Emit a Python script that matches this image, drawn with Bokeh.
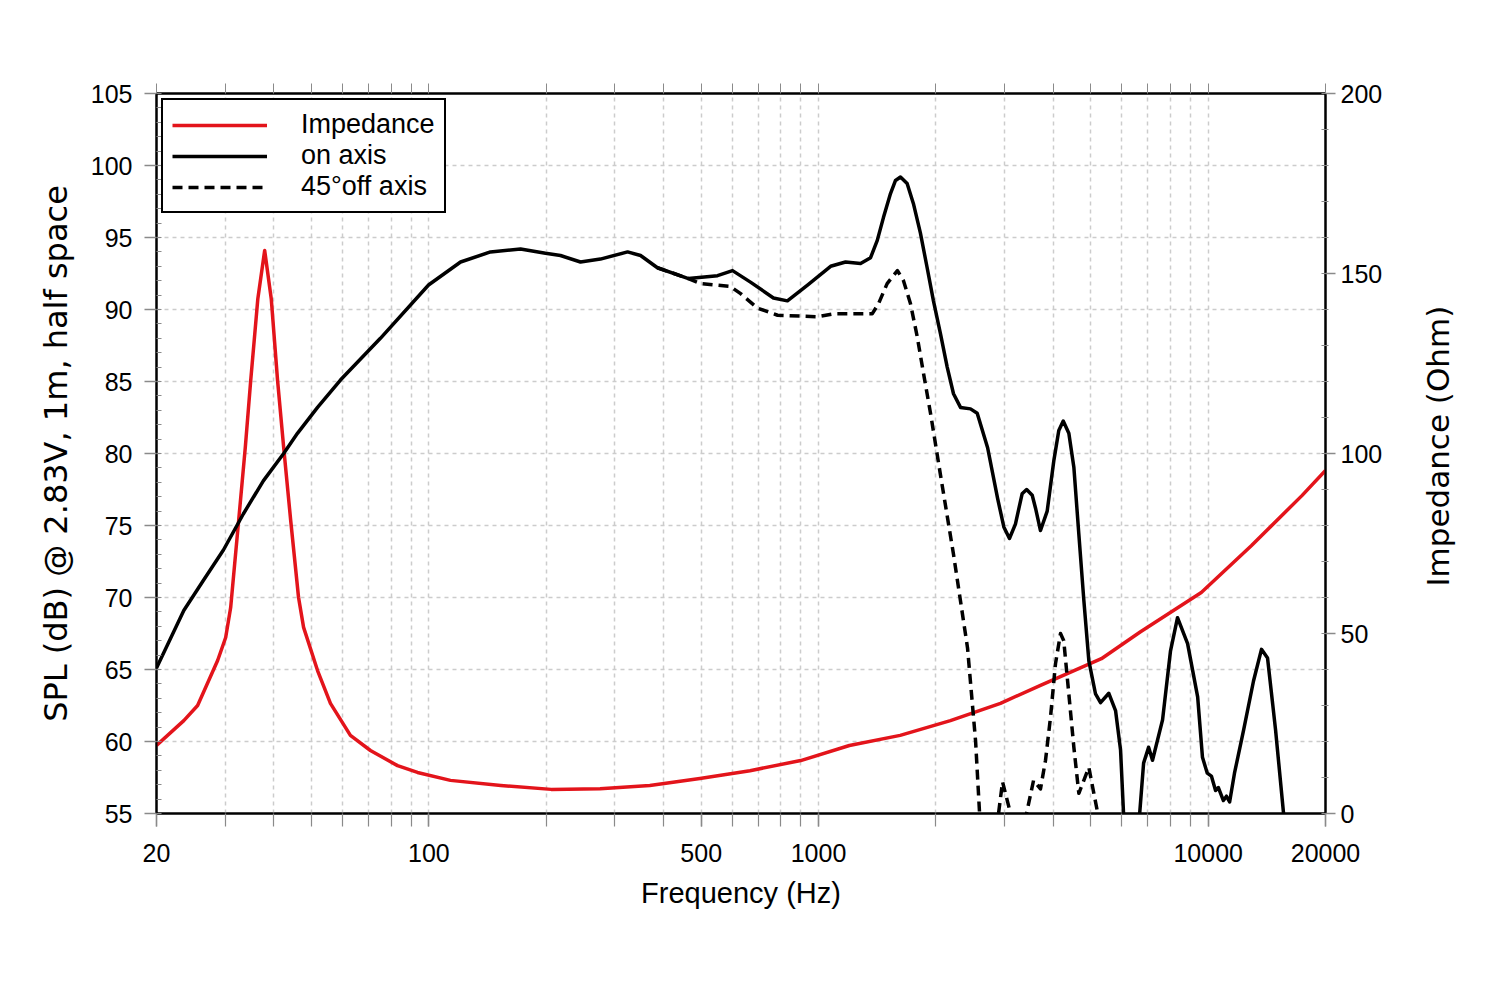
import math
from bokeh.plotting import figure
from bokeh.layouts import row
from bokeh.core.properties import value
from bokeh.models import (Range1d, LinearAxis, LogAxis, FixedTicker, Legend,
                          LegendItem, PrintfTickFormatter)
from bokeh.embed import file_html
from bokeh.resources import INLINE

# ---------------- data ----------------
on_freq = [20, 23.5, 26.4, 29.7, 33.4, 37.6, 42.4, 46.0, 51.8, 59.3, 75.1, 99.8,
           120.6, 143.9, 171.9, 199.2, 217.7, 245, 275.6, 323.6, 349.4, 386,
           463.6, 550.5, 601.6, 668.8, 766, 832, 937, 1074, 1173, 1282, 1360,
           1415, 1468, 1530, 1576, 1623, 1688, 1752, 1826, 1900, 1972, 2056,
           2139, 2220, 2314, 2455, 2554, 2716, 2880, 2989, 3090, 3201, 3330,
           3420, 3535, 3605, 3712, 3862, 4016, 4136, 4246, 4389, 4521, 4656,
           4796, 4940, 5139, 5293, 5559, 5784, 5958, 6076, 6300, 6550, 6670,
           6827, 7032, 7196, 7636, 8004, 8342, 8853, 9396, 9667, 9946, 10190,
           10445, 10620, 10940, 11140, 11350, 11680, 12330, 13070, 13700, 14200,
           14890, 15610, 16300]
on_spl = [65.1, 69.1, 71.2, 73.3, 75.8, 78.1, 80.0, 81.4, 83.2, 85.1, 88.0, 91.7,
          93.3, 94.0, 94.2, 93.9, 93.75, 93.3, 93.5, 94.0, 93.75, 92.9,
          92.15, 92.35, 92.7, 91.9, 90.8, 90.6, 91.7, 93.0, 93.3, 93.2, 93.6,
          94.8, 96.4, 98.05, 98.96, 99.2, 98.75, 97.35, 95.3, 92.9, 90.6, 88.3,
          86.0, 84.15, 83.2, 83.1, 82.8, 80.4, 76.9, 74.9, 74.1, 75.1, 77.2,
          77.5, 77.1, 76.2, 74.65, 76.0, 79.5, 81.6, 82.25, 81.4, 79.05, 74.4,
          69.8, 65.6, 63.3, 62.7, 63.35, 62.15, 59.4, 54.5, 46.0, 46.0, 55.0,
          58.5, 59.6, 58.7, 61.5, 66.3, 68.6, 66.8, 63.1, 58.9, 57.8, 57.6,
          56.6, 56.8, 55.9, 56.2, 55.8, 57.8, 60.8, 64.2, 66.4, 65.8,
          60.8, 55.0, 50.0]

off_freq = [386, 463.6, 498, 594, 631, 697, 785, 994, 1092, 1282, 1373, 1425,
            1500, 1594, 1652, 1722, 1792, 1860, 1938, 2056, 2220, 2412, 2530,
            2590, 2683, 2845, 2897, 2966, 3110, 3230, 3337, 3418, 3563, 3712,
            3824, 3939, 4056, 4178, 4259, 4389, 4521, 4656, 4796, 4940, 5088,
            5208, 5290, 5500]
off_spl = [92.9, 92.15, 91.8, 91.6, 91.1, 90.1, 89.6, 89.5, 89.7, 89.7, 89.7,
           90.4, 91.8, 92.7, 92.0, 90.4, 88.1, 85.55, 82.8, 78.5, 73.0, 66.5,
           60.0, 55.0, 51.0, 50.0, 55.0, 57.2, 55.0, 52.0, 53.0, 55.0, 57.3,
           56.7, 58.7, 61.7, 65.4, 67.5, 67.0, 63.3, 59.6, 56.4, 57.3, 58.2,
           56.4, 55.0, 54.0, 50.0]

imp_freq = [20, 23.5, 25.5, 28.7, 30.1, 31.0, 32.5, 33.8, 34.9, 36.4, 37.9, 39.4,
            40.9, 42.4, 44.2, 46.3, 47.7, 51.8, 55.9, 62.9, 70.8, 83.1, 93.5,
            113.6, 153, 206, 275, 369, 496, 667, 900, 1200, 1620, 2180, 2930,
            3712, 5320, 6690, 9600, 12900, 17400, 20000]
imp_ohm = [18.9, 25.8, 30.0, 42.5, 48.9, 57.2, 81.4, 101.7, 120.3, 143.0, 156.4,
           143.0, 120.3, 101.7, 81.4, 60.0, 51.7, 39.7, 30.6, 21.7, 17.5, 13.3,
           11.4, 9.2, 7.8, 6.7, 6.9, 7.8, 9.7, 11.9, 14.7, 18.9, 21.7, 25.8,
           30.6, 35.6, 43.0, 50.4, 61.4, 74.4, 88.3, 95.3]

x_major_ticks = [20, 100, 500, 1000, 10000, 20000]
x_minor_ticks = [20, 30, 40, 50, 60, 70, 80, 90, 100, 200, 300, 400, 500, 600,
                 700, 800, 900, 1000, 2000, 3000, 4000, 5000, 6000, 7000, 8000,
                 9000, 10000, 20000]
spl_ticks = [55, 60, 65, 70, 75, 80, 85, 90, 95, 100, 105]
spl_minor = list(range(55, 106))
imp_ticks = [0, 50, 100, 150, 200]
imp_minor = list(range(0, 201, 10))

legend_labels = ["Impedance", "on axis", "45°off axis"]
right_label_text = ["Impedance (Ohm)"]

# ---------------- figure ----------------
TICK_FONT = "Liberation Sans"
RED = "#e3141b"
GRID = "#cccccc"
TICKC = "#8a8a8a"
LW = 3.5
H = 980

p = figure(width=1400, height=H, x_axis_type="log",
           x_range=Range1d(20, 20000), y_range=Range1d(55, 105),
           output_backend="svg", toolbar_location=None,
           min_border_left=156, min_border_right=75,
           min_border_top=93, min_border_bottom=167)
p.outline_line_color = "black"
p.outline_line_width = 2
p.background_fill_color = "white"
p.border_fill_color = "white"

p.extra_y_ranges = {"imp": Range1d(0, 200)}

# grids
p.xgrid.ticker = FixedTicker(ticks=x_minor_ticks)
p.ygrid.ticker = FixedTicker(ticks=spl_ticks)
for g in (p.xgrid, p.ygrid):
    g.grid_line_color = GRID
    g.grid_line_dash = "4 4"
    g.grid_line_width = 1.5


def style_axis(ax, label_font, label_size):
    ax.axis_label_text_font = label_font
    ax.axis_label_text_font_size = label_size
    ax.axis_label_text_font_style = "normal"
    ax.axis_label_text_color = "black"
    ax.major_label_text_font = TICK_FONT
    ax.major_label_text_font_size = "25px"
    ax.major_label_text_color = "black"
    ax.major_tick_line_color = TICKC
    ax.minor_tick_line_color = TICKC
    ax.major_tick_line_width = 1.5
    ax.minor_tick_line_width = 1.2
    ax.axis_line_color = "black"
    ax.axis_line_width = 2


# bottom axis
xa = p.xaxis[0]
xa.ticker = FixedTicker(ticks=x_major_ticks, minor_ticks=x_minor_ticks)
xa.formatter = PrintfTickFormatter(format="%d")
xa.axis_label = "Frequency (Hz)"
style_axis(xa, TICK_FONT, "29px")
xa.axis_label_standoff = 12
xa.major_label_standoff = 17
xa.major_tick_in = 0
xa.major_tick_out = 13
xa.minor_tick_in = 0
xa.minor_tick_out = 13

# left axis
ya = p.yaxis[0]
ya.ticker = FixedTicker(ticks=spl_ticks, minor_ticks=spl_minor)
ya.axis_label = "SPL (dB) @ 2.83V, 1m, half space"
style_axis(ya, "DejaVu Sans", "32px")
ya.axis_label_standoff = 13
ya.major_label_standoff = 12
ya.major_tick_in = 0
ya.major_tick_out = 12
ya.minor_tick_in = 5
ya.minor_tick_out = 0

# right axis (impedance); its title is drawn in a narrow side panel
ra = LinearAxis(y_range_name="imp",
                ticker=FixedTicker(ticks=imp_ticks, minor_ticks=imp_minor))
style_axis(ra, "DejaVu Sans", "31px")
ra.major_label_standoff = 5
ra.major_tick_in = 0
ra.major_tick_out = 10
ra.minor_tick_in = 4
ra.minor_tick_out = 3
p.add_layout(ra, "right")

# top axis (ticks only)
ta = LogAxis(ticker=FixedTicker(ticks=[], minor_ticks=x_minor_ticks))
ta.major_label_text_font_size = "0px"
ta.major_tick_in = 0
ta.major_tick_out = 10
ta.minor_tick_in = 0
ta.minor_tick_out = 10
ta.minor_tick_line_color = TICKC
ta.major_tick_line_color = TICKC
ta.axis_line_color = "black"
ta.axis_line_width = 2
p.add_layout(ta, "above")

# curves
r_imp = p.line(imp_freq, imp_ohm, y_range_name="imp", line_color=RED,
               line_width=LW, line_join="round")
r_off = p.line(off_freq, off_spl, line_color="black", line_width=LW,
               line_dash="10 6", line_join="round")
r_on = p.line(on_freq, on_spl, line_color="black", line_width=LW,
              line_join="round")

legend = Legend(items=[LegendItem(label=legend_labels[0], renderers=[r_imp]),
                       LegendItem(label=legend_labels[1], renderers=[r_on]),
                       LegendItem(label=legend_labels[2], renderers=[r_off])],
                location="top_left")
legend.margin = 5
legend.padding = 9
legend.spacing = 0
legend.glyph_width = 95
legend.glyph_height = 28
legend.label_height = 28
legend.label_standoff = 34
legend.label_text_font = TICK_FONT
legend.label_text_font_size = "27px"
legend.label_text_color = "black"
legend.border_line_color = "black"
legend.border_line_alpha = 1.0
legend.border_line_width = 2.5
legend.background_fill_color = "white"
legend.background_fill_alpha = 1.0
p.add_layout(legend)

# side panel holding the right-axis title (reads bottom-to-top)
q = figure(width=80, height=H, x_range=Range1d(0, 80), y_range=Range1d(0, H),
           output_backend="svg", toolbar_location=None,
           x_axis_location=None, y_axis_location=None,
           min_border=0)
q.outline_line_color = None
q.grid.visible = False
q.background_fill_color = "white"
q.border_fill_color = "white"
q.text(x=[37], y=[H - 480], text=right_label_text, angle=math.pi / 2,
       text_align="center", text_baseline="middle",
       text_font=value("DejaVu Sans"), text_font_size="31px",
       text_color="black")

layout = row(p, q, spacing=0)
open("out.html", "w").write(file_html(layout, INLINE))
